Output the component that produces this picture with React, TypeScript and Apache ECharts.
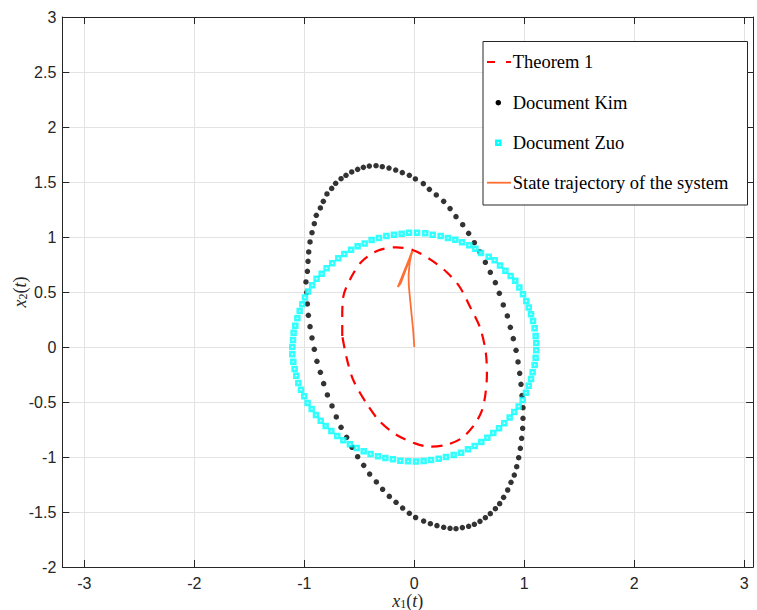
import React, { useEffect, useRef } from "react";
import * as echarts from "echarts";

// ---- data ----
const theorem1Points: [number, number][] = [
  [-0.655, 0.1], [-0.655, 0.26], [-0.645, 0.46], [-0.57, 0.64], [-0.48, 0.775], [-0.335, 0.875],
  [-0.165, 0.906], [-0.01, 0.88], [0.155, 0.79], [0.295, 0.68], [0.41, 0.55], [0.51, 0.36],
  [0.6, 0.17], [0.65, -0.05], [0.66, -0.25], [0.645, -0.44], [0.61, -0.59], [0.536, -0.72],
  [0.43, -0.83], [0.29, -0.89], [0.14, -0.906], [0.006, -0.876], [-0.16, -0.8], [-0.31, -0.68],
  [-0.43, -0.52], [-0.555, -0.3], [-0.615, -0.1], [-0.655, 0.1],
];

const kimPoints: [number, number][] = [
  [-0.985, 0.591], [-0.972, 0.688], [-0.966, 0.779], [-0.96, 0.864], [-0.948, 0.955], [-0.93, 1.039],
  [-0.909, 1.121], [-0.891, 1.197], [-0.854, 1.264], [-0.827, 1.324], [-0.794, 1.391], [-0.751, 1.442],
  [-0.715, 1.488], [-0.666, 1.53], [-0.621, 1.561], [-0.569, 1.591], [-0.515, 1.615], [-0.463, 1.633],
  [-0.409, 1.645], [-0.348, 1.648], [-0.291, 1.639], [-0.23, 1.627], [-0.169, 1.609], [-0.109, 1.585],
  [-0.045, 1.561], [0.01, 1.528], [0.082, 1.485], [0.137, 1.433], [0.2, 1.382], [0.267, 1.324],
  [0.325, 1.258], [0.379, 1.185], [0.44, 1.112], [0.494, 1.033], [0.546, 0.948], [0.597, 0.864],
  [0.646, 0.77], [0.691, 0.679], [0.737, 0.585], [0.773, 0.488], [0.809, 0.382], [0.846, 0.282],
  [0.873, 0.179], [0.9, 0.076], [0.925, -0.03], [0.943, -0.136], [0.958, -0.239], [0.97, -0.339],
  [0.979, -0.442], [0.988, -0.552], [0.988, -0.648], [0.985, -0.739], [0.976, -0.83], [0.964, -0.921],
  [0.949, -1.006], [0.931, -1.088], [0.909, -1.164], [0.879, -1.23], [0.849, -1.3], [0.812, -1.367],
  [0.776, -1.424], [0.737, -1.47], [0.691, -1.515], [0.646, -1.552], [0.597, -1.585], [0.546, -1.612],
  [0.494, -1.63], [0.437, -1.642], [0.379, -1.652], [0.325, -1.648], [0.267, -1.639], [0.206, -1.624],
  [0.146, -1.606], [0.085, -1.582], [0.012, -1.55], [-0.045, -1.512], [-0.106, -1.464], [-0.166, -1.412],
  [-0.227, -1.358], [-0.288, -1.294], [-0.345, -1.227], [-0.406, -1.155], [-0.46, -1.076], [-0.515, -0.997],
  [-0.566, -0.912], [-0.615, -0.821], [-0.666, -0.73], [-0.709, -0.636], [-0.748, -0.536], [-0.79, -0.436],
  [-0.824, -0.333], [-0.854, -0.23], [-0.885, -0.13], [-0.909, -0.021], [-0.93, 0.082], [-0.948, 0.185],
  [-0.963, 0.288], [-0.972, 0.391], [-0.978, 0.497],
];

const zuoPoints: [number, number][] = [
  [-1.109, 0.0], [-1.103, 0.064], [-1.097, 0.13], [-1.082, 0.194], [-1.063, 0.261], [-1.042, 0.327],
  [-1.018, 0.388], [-0.994, 0.449], [-0.965, 0.505], [-0.928, 0.562], [-0.888, 0.621], [-0.842, 0.667],
  [-0.797, 0.715], [-0.745, 0.761], [-0.691, 0.806], [-0.636, 0.845], [-0.575, 0.885], [-0.515, 0.915],
  [-0.451, 0.942], [-0.388, 0.973], [-0.321, 0.991], [-0.254, 1.009], [-0.185, 1.021], [-0.115, 1.03],
  [-0.048, 1.039], [0.025, 1.039], [0.1, 1.033], [0.167, 1.021], [0.24, 1.009], [0.306, 0.991],
  [0.373, 0.976], [0.434, 0.952], [0.5, 0.924], [0.555, 0.894], [0.606, 0.855], [0.676, 0.821],
  [0.731, 0.788], [0.779, 0.742], [0.828, 0.694], [0.876, 0.645], [0.918, 0.603], [0.955, 0.542],
  [0.988, 0.479], [1.018, 0.418], [1.04, 0.358], [1.061, 0.297], [1.079, 0.236], [1.094, 0.17],
  [1.103, 0.1], [1.109, 0.036], [1.109, -0.03], [1.103, -0.097], [1.094, -0.164], [1.076, -0.23],
  [1.061, -0.291], [1.04, -0.352], [1.015, -0.415], [0.985, -0.482], [0.949, -0.54], [0.909, -0.591],
  [0.867, -0.642], [0.818, -0.694], [0.77, -0.739], [0.718, -0.782], [0.664, -0.824], [0.609, -0.864],
  [0.549, -0.9], [0.488, -0.93], [0.425, -0.961], [0.358, -0.982], [0.288, -1.0], [0.222, -1.015],
  [0.152, -1.027], [0.085, -1.036], [0.015, -1.042], [-0.057, -1.039], [-0.127, -1.033], [-0.194, -1.021],
  [-0.263, -1.009], [-0.33, -0.994], [-0.397, -0.973], [-0.46, -0.948], [-0.524, -0.918], [-0.585, -0.885],
  [-0.645, -0.848], [-0.7, -0.809], [-0.754, -0.764], [-0.806, -0.718], [-0.851, -0.67], [-0.894, -0.618],
  [-0.933, -0.564], [-0.97, -0.509], [-1.0, -0.448], [-1.03, -0.388], [-1.054, -0.327], [-1.073, -0.261],
  [-1.088, -0.2], [-1.1, -0.133], [-1.109, -0.067],
];

const trajectoryPoints: [number, number][] = [
  [0, 0], [-0.01, 0.15], [-0.024, 0.29], [-0.04, 0.45], [-0.05, 0.56], [-0.052, 0.65], [-0.043, 0.76],
  [-0.025, 0.85], [-0.015, 0.87], [-0.15, 0.545], [-0.02, 0.866], [-0.145, 0.55], [-0.022, 0.862],
  [-0.14, 0.556], [-0.024, 0.86], [-0.135, 0.562], [-0.02, 0.865], [-0.13, 0.568], [-0.018, 0.868],
  [-0.125, 0.575], [-0.016, 0.869],
];

const legendLabels = ["Theorem 1", "Document Kim", "Document Zuo", "State trajectory of the system"];

const xMin = -3.2;
const xMax = 3.08;
const yMin = -2;
const yMax = 3;
const yStep = 0.5;

const AXIS_COLOR = "#262626";
const GRID_COLOR = "#e3e3e3";
const SANS = "Liberation Sans";
const SERIF = "Liberation Serif";
const LABEL_SIZE = 16;

export default function App() {
  const ref = useRef<HTMLDivElement>(null);

  useEffect(() => {
    if (!ref.current) return;
    const chart = echarts.init(ref.current, null, { renderer: "svg" });

    const mathRich = {
      i: { fontFamily: SERIF, fontStyle: "italic", fontSize: 18, lineHeight: 19, color: AXIS_COLOR },
      s: { fontFamily: SERIF, fontSize: 12, lineHeight: 11, verticalAlign: "bottom", color: AXIS_COLOR },
      n: { fontFamily: SERIF, fontSize: 18, lineHeight: 19, color: AXIS_COLOR },
    };

    const intLabel = (v: number) => (Math.abs(v - Math.round(v)) < 1e-9 ? String(Math.round(v)) : "");

    const legendY = [62, 102.7, 142.7, 182.7];
    const legendTextX = 512.7;
    const legendIconX = 498.3;

    const labelStyle = { color: AXIS_COLOR, fontSize: LABEL_SIZE, fontFamily: SANS };

    const option: any = {
      animation: false,
      backgroundColor: "#ffffff",
      textStyle: { fontFamily: SANS, fontSize: LABEL_SIZE, color: AXIS_COLOR },
      grid: {
        left: 62.3,
        top: 17,
        width: 690.8,
        height: 550,
        containLabel: false,
        outerBoundsMode: "none",
      },
      xAxis: [
        {
          type: "value",
          min: xMin,
          max: xMax,
          minInterval: 1,
          maxInterval: 1,
          position: "bottom",
          axisLine: { show: true, onZero: false, lineStyle: { color: AXIS_COLOR, width: 1 } },
          axisTick: { show: true, inside: true, length: 7, lineStyle: { color: AXIS_COLOR } },
          axisLabel: { ...labelStyle, margin: 8, lineHeight: 16, formatter: intLabel },
          splitLine: { show: true, lineStyle: { color: GRID_COLOR, width: 1 } },
          name: "{i|x}{s|1}{n|(}{i|t}{n|)}",
          nameLocation: "middle",
          nameGap: 24,
          nameMoveOverlap: false,
          nameTextStyle: { rich: mathRich },
        },
        {
          type: "value",
          min: xMin,
          max: xMax,
          minInterval: 1,
          maxInterval: 1,
          position: "top",
          axisLine: { show: true, onZero: false, lineStyle: { color: AXIS_COLOR, width: 1 } },
          axisTick: { show: true, inside: true, length: 7, lineStyle: { color: AXIS_COLOR } },
          axisLabel: { show: false },
          splitLine: { show: false },
        },
      ],
      yAxis: [
        {
          type: "value",
          min: yMin,
          max: yMax,
          interval: yStep,
          position: "left",
          axisLine: { show: true, onZero: false, lineStyle: { color: AXIS_COLOR, width: 1 } },
          axisTick: { show: true, inside: true, length: 7, lineStyle: { color: AXIS_COLOR } },
          axisLabel: { ...labelStyle, margin: 6 },
          splitLine: { show: true, lineStyle: { color: GRID_COLOR, width: 1 } },
          name: "{i|x}{s|2}{n|(}{i|t}{n|)}",
          nameLocation: "middle",
          nameGap: 33,
          nameMoveOverlap: false,
          nameTextStyle: { rich: mathRich },
        },
        {
          type: "value",
          min: yMin,
          max: yMax,
          interval: yStep,
          position: "right",
          axisLine: { show: true, onZero: false, lineStyle: { color: AXIS_COLOR, width: 1 } },
          axisTick: { show: true, inside: true, length: 7, lineStyle: { color: AXIS_COLOR } },
          axisLabel: { show: false },
          splitLine: { show: false },
        },
      ],
      series: [
        {
          name: legendLabels[0],
          type: "line",
          data: theorem1Points,
          symbol: "none",
          smooth: 0.3,
          silent: true,
          lineStyle: { color: "#ff0000", width: 2.2, type: [11, 8] },
          z: 2,
        },
        {
          name: legendLabels[1],
          type: "scatter",
          data: kimPoints,
          symbol: "circle",
          symbolSize: 5.5,
          silent: true,
          itemStyle: { color: "#000000" },
          z: 3,
        },
        {
          name: legendLabels[2],
          type: "scatter",
          data: zuoPoints,
          symbol: "rect",
          symbolSize: 4,
          silent: true,
          itemStyle: { color: "#e8ffff", borderColor: "#00ffff", borderWidth: 2.5 },
          z: 4,
        },
        {
          name: legendLabels[3],
          type: "line",
          data: trajectoryPoints,
          symbol: "none",
          silent: true,
          lineStyle: { color: "#ff6e32", width: 1.8 },
          z: 5,
        },
      ],
      graphic: [
        {
          type: "rect",
          shape: { x: 483, y: 41.5, width: 264.5, height: 163.5 },
          style: { fill: "#ffffff", stroke: AXIS_COLOR, lineWidth: 1 },
          z: 100,
        },
        {
          type: "line",
          shape: { x1: 487, y1: legendY[0], x2: 511, y2: legendY[0] },
          style: { stroke: "#ff0000", lineWidth: 2.2, lineDash: [8, 11] },
          z: 101,
        },
        {
          type: "circle",
          shape: { cx: legendIconX, cy: legendY[1], r: 2.75 },
          style: { fill: "#000000" },
          z: 101,
        },
        {
          type: "rect",
          shape: { x: legendIconX - 2, y: legendY[2] - 2, width: 4, height: 4 },
          style: { fill: "#e8ffff", stroke: "#00ffff", lineWidth: 2.5 },
          z: 101,
        },
        {
          type: "line",
          shape: { x1: 487, y1: legendY[3], x2: 511, y2: legendY[3] },
          style: { stroke: "#ff6e32", lineWidth: 1.8 },
          z: 101,
        },
        ...legendLabels.map((t, k) => ({
          type: "text",
          x: legendTextX,
          y: legendY[k],
          style: {
            text: t,
            fontSize: 18.5,
            fontFamily: SERIF,
            fill: "#000000",
            align: "left",
            verticalAlign: "middle",
          },
          z: 101,
        })),
      ],
    };

    chart.setOption(option);
    return () => {
      chart.dispose();
    };
  }, []);

  return (
    <div
      ref={ref}
      style={{ position: "fixed", left: 0, top: 0, width: 757, height: 610, background: "#fff" }}
    />
  );
}
